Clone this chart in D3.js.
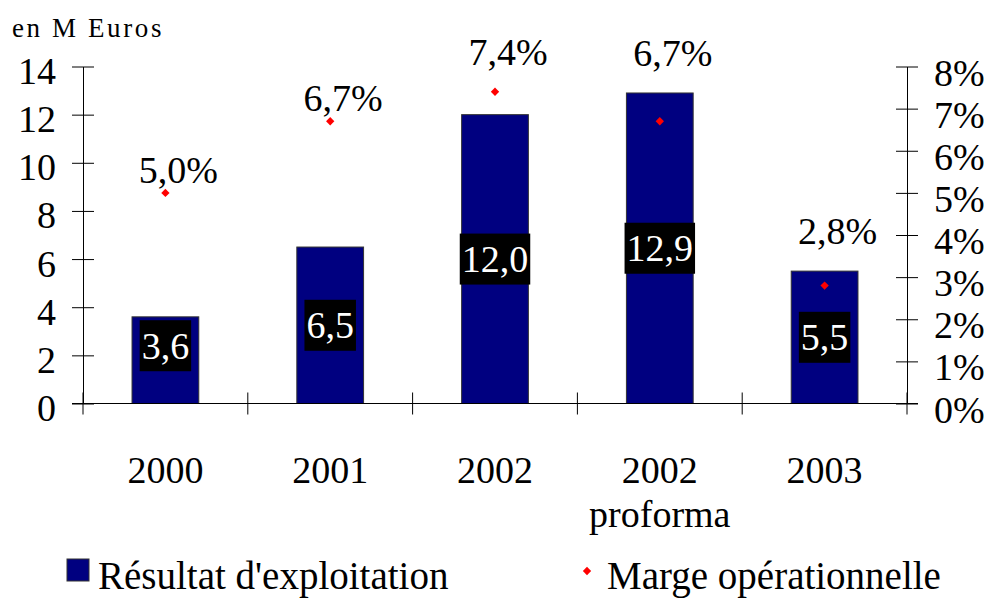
<!DOCTYPE html>
<html>
<head>
<meta charset="utf-8">
<script src="https://cdn.jsdelivr.net/npm/d3@7"></script>
<style>
  body { margin: 0; background: #fff; }
  svg { display: block; }
  svg text { font-family: 'Liberation Serif', 'Times New Roman', Tinos, 'DejaVu Serif', serif; }
</style>
</head>
<body>
<svg id="chart" width="985" height="599"></svg>
<script>
// Data
const categories = ['2000', '2001', '2002', '2002 proforma', '2003'];
const resultat = [3.6, 6.5, 12.0, 12.9, 5.5];          // M Euros
const marge = [0.050, 0.067, 0.074, 0.067, 0.028];      // operating margin
const leftTicks = [0, 2, 4, 6, 8, 10, 12, 14];
const rightTicks = [0, 0.01, 0.02, 0.03, 0.04, 0.05, 0.06, 0.07, 0.08];

const width = 985;
const height = 599;
const plot = { left: 83, right: 907, top: 66.5, bottom: 403.5 };
const fontSize = 38;
const serif = "'Liberation Serif', 'Times New Roman', Tinos, 'DejaVu Serif', serif";

const fr = d3.formatLocale({ decimal: ',', thousands: ' ', grouping: [3], currency: ['', ' €'] });
const fmtValue = fr.format('.1f');
const fmtPct = fr.format('.1%');
const fmtAxisPct = fr.format('.0%');

const svg = d3.select('#chart')
    .attr('viewBox', `0 0 ${width} ${height}`)
    .attr('font-family', serif);

// Scales
const x = d3.scaleBand()
    .domain(categories)
    .range([plot.left, plot.right])
    .paddingInner(0.595)
    .paddingOuter(0.2975);
const yLeft = d3.scaleLinear().domain([0, 14]).range([plot.bottom, plot.top]);
const yRight = d3.scaleLinear().domain([0, 0.08]).range([plot.bottom, plot.top]);
const step = x.step();

// Bars
svg.append('g')
    .selectAll('rect')
    .data(resultat)
    .join('rect')
    .attr('x', (d, i) => x(categories[i]))
    .attr('y', d => yLeft(d))
    .attr('width', x.bandwidth())
    .attr('height', d => plot.bottom - yLeft(d))
    .attr('fill', '#000080')
    .attr('stroke', '#333')
    .attr('stroke-width', 1);

// Left axis
svg.append('g')
    .attr('transform', `translate(${plot.left},0)`)
    .call(d3.axisLeft(yLeft).tickValues(leftTicks).tickSize(11).tickSizeOuter(0).tickPadding(16))
    .attr('font-family', serif)
    .call(g => g.select('.domain').attr('stroke', '#000'))
    .call(g => g.selectAll('.tick line').attr('x1', 11).attr('stroke', '#000'))
    .call(g => g.selectAll('.tick text')
        .attr('dy', 17)
        .attr('font-size', fontSize)
        .attr('fill', '#000'));

// Right axis
svg.append('g')
    .attr('transform', `translate(${plot.right},0)`)
    .call(d3.axisRight(yRight).tickValues(rightTicks).tickFormat(fmtAxisPct).tickSize(11).tickSizeOuter(0).tickPadding(16))
    .attr('font-family', serif)
    .call(g => g.select('.domain').attr('stroke', '#000'))
    .call(g => g.selectAll('.tick line').attr('x1', -11).attr('stroke', '#000'))
    .call(g => g.selectAll('.tick text')
        .attr('dy', 18.5)
        .attr('font-size', fontSize)
        .attr('fill', '#000'));

// Category axis: baseline and separator ticks
svg.append('line')
    .attr('x1', plot.left - 11).attr('x2', plot.right + 11)
    .attr('y1', plot.bottom).attr('y2', plot.bottom)
    .attr('stroke', '#000');
svg.append('g')
    .selectAll('line')
    .data(d3.range(categories.length + 1))
    .join('line')
    .attr('x1', i => plot.left + i * step)
    .attr('x2', i => plot.left + i * step)
    .attr('y1', plot.bottom - 11)
    .attr('y2', plot.bottom + 11)
    .attr('stroke', '#000');

// Category labels (split on space for "2002 proforma")
svg.append('g')
    .selectAll('text')
    .data(categories)
    .join('text')
    .attr('x', d => x(d) + x.bandwidth() / 2)
    .attr('y', 483)
    .attr('text-anchor', 'middle')
    .attr('font-size', fontSize)
    .selectAll('tspan')
    .data(d => d.split(' '))
    .join('tspan')
    .attr('x', function () { return this.parentNode.getAttribute('x'); })
    .attr('dy', (d, i) => i === 0 ? 0 : 44)
    .text(d => d);

// Value labels inside bars: white text on black box
const valueLabels = svg.append('g')
    .selectAll('g')
    .data(resultat)
    .join('g')
    .attr('transform', (d, i) => {
        const cx = x(categories[i]) + x.bandwidth() / 2;
        const cy = yLeft(Math.max(d / 2, 2.4));
        return `translate(${cx},${cy})`;
    });
valueLabels.append('rect').attr('fill', '#000');
valueLabels.append('text')
    .attr('text-anchor', 'middle')
    .attr('y', 13)
    .attr('font-size', fontSize)
    .attr('fill', '#fff')
    .text(d => fmtValue(d));
valueLabels.each(function () {
    const g = d3.select(this);
    const bb = g.select('text').node().getBBox();
    g.select('rect')
        .attr('x', bb.x - 2)
        .attr('y', -25.5)
        .attr('width', bb.width + 4)
        .attr('height', 51);
});

// Margin markers (red diamonds) on the right axis
const diamond = d3.symbol().type(d3.symbolDiamond2).size(44);
svg.append('g')
    .selectAll('path')
    .data(marge)
    .join('path')
    .attr('d', diamond)
    .attr('transform', (d, i) => `translate(${x(categories[i]) + x.bandwidth() / 2},${yRight(d)})`)
    .attr('fill', '#ff0000');

// Margin labels, pushed higher when the bar top is close to the marker
svg.append('g')
    .selectAll('text')
    .data(marge)
    .join('text')
    .attr('x', (d, i) => x(categories[i]) + x.bandwidth() / 2)
    .attr('dx', 13)
    .attr('y', (d, i) => {
        const py = yRight(d);
        const by = yLeft(resultat[i]);
        return Math.abs(py - by) < 40 ? Math.min(py, by) - 27 : py - 10;
    })
    .attr('text-anchor', 'middle')
    .attr('font-size', fontSize)
    .text(d => fmtPct(d));

// Unit title
svg.append('text')
    .attr('x', 12)
    .attr('y', 37)
    .attr('font-size', 27)
    .attr('letter-spacing', 2.6)
    .text('en M Euros');

// Legend
const legend = svg.append('g');
legend.append('rect')
    .attr('x', 67).attr('y', 559)
    .attr('width', 22).attr('height', 22)
    .attr('fill', '#000080')
    .attr('stroke', '#333');
legend.append('text')
    .attr('x', 98).attr('y', 589)
    .attr('font-size', 39)
    .text('Résultat d\'exploitation');
legend.append('path')
    .attr('d', diamond)
    .attr('transform', 'translate(587,571)')
    .attr('fill', '#ff0000');
legend.append('text')
    .attr('x', 607).attr('y', 589)
    .attr('font-size', 39)
    .text('Marge opérationnelle');
</script>
</body>
</html>
